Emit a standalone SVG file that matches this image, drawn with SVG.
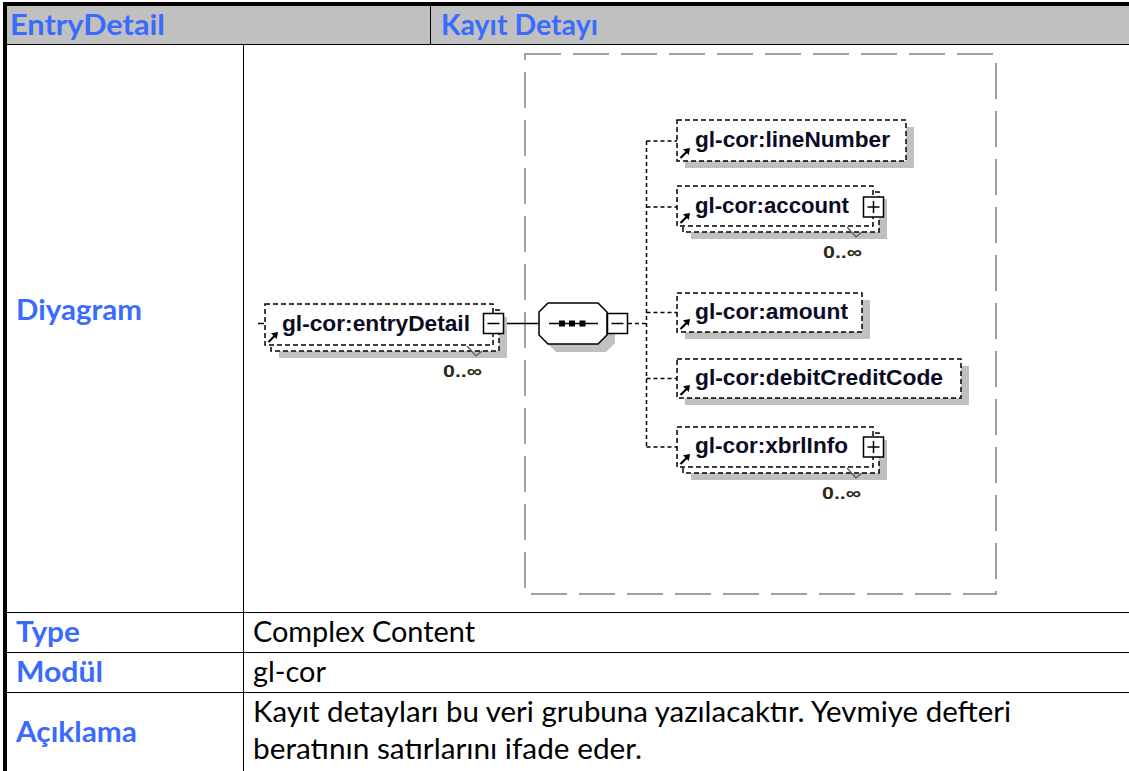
<svg xmlns="http://www.w3.org/2000/svg" width="1129" height="771" viewBox="0 0 1129 771">
<style>
.lbl{font-family:Lato,"Open Sans","Liberation Sans",sans-serif;font-size:28px;font-weight:bold;fill:#3a6bff}
.val{font-family:Lato,"Open Sans","Liberation Sans",sans-serif;font-size:28px;fill:#000}
.grid{stroke:#000;stroke-width:1;fill:none}
.frame{fill:none;stroke:#a0a0a0;stroke-width:2;stroke-dasharray:36 12}
.nb{fill:#fff;stroke:#000;stroke-width:1.5;stroke-dasharray:5 3}
.sh{fill:#c0c0c0}
.nt{font-family:"Liberation Sans",Arial,sans-serif;font-size:22px;font-weight:bold;fill:#0b0b26}
.occ{font-family:"Liberation Sans",Arial,sans-serif;font-size:17px;font-weight:bold;fill:#2a2a12}
.pm{fill:#fff;stroke:#000;stroke-width:1.5}
.pl{stroke:#000;stroke-width:1.5;fill:none}
.dc{stroke:#000;stroke-width:1.5;stroke-dasharray:4 3;fill:none}
.sc{stroke:#000;stroke-width:1.5;fill:none}
.tick{stroke:#555;stroke-width:1.2;fill:none}
</style>
<defs>
<g id="refArrow"><path d="M0.5,11 L7,4.5" stroke="#000" stroke-width="2.2"/><path d="M10,1 L3,2.2 L8.8,8 Z" fill="#000"/></g>
</defs>

<g id="table">
<rect x="7" y="6" width="1122" height="38.5" fill="#c0c0c0"/>
<rect x="3" y="2" width="1126" height="4" fill="#000"/>
<rect x="3" y="2" width="4" height="769" fill="#000"/>
<line class="grid" x1="7" y1="44.5" x2="1129" y2="44.5"/>
<line class="grid" x1="430.5" y1="6" x2="430.5" y2="44"/>
<line class="grid" x1="243.5" y1="45" x2="243.5" y2="771"/>
<line class="grid" x1="7" y1="612.5" x2="1129" y2="612.5"/>
<line class="grid" x1="7" y1="652.5" x2="1129" y2="652.5"/>
<line class="grid" x1="7" y1="692.5" x2="1129" y2="692.5"/>
<text class="lbl" x="10" y="35" textLength="155" lengthAdjust="spacingAndGlyphs">EntryDetail</text>
<text class="lbl" x="441" y="35" textLength="157" lengthAdjust="spacingAndGlyphs">Kayıt Detayı</text>
<text class="lbl" x="16" y="320" textLength="126" lengthAdjust="spacingAndGlyphs">Diyagram</text>
<text class="lbl" x="16" y="642" textLength="64" lengthAdjust="spacingAndGlyphs">Type</text>
<text class="lbl" x="16" y="682" textLength="87" lengthAdjust="spacingAndGlyphs">Modül</text>
<text class="lbl" x="16" y="742" textLength="121" lengthAdjust="spacingAndGlyphs">Açıklama</text>
<text class="val" x="253" y="642" textLength="222" lengthAdjust="spacingAndGlyphs">Complex Content</text>
<text class="val" x="253" y="682" textLength="73" lengthAdjust="spacingAndGlyphs">gl-cor</text>
<text class="val" x="253" y="722" textLength="758" lengthAdjust="spacingAndGlyphs">Kayıt detayları bu veri grubuna yazılacaktır. Yevmiye defteri</text>
<text class="val" x="253" y="759" textLength="389" lengthAdjust="spacingAndGlyphs">beratının satırlarını ifade eder.</text>
</g>

<rect id="sequence-frame" class="frame" x="525" y="54" width="471" height="540"/>

<g id="connectors">
<line class="sc" x1="258" y1="323.5" x2="264" y2="323.5"/>
<line class="sc" x1="504" y1="323.5" x2="539" y2="323.5"/>
<line class="dc" x1="628" y1="323.5" x2="647" y2="323.5"/>
<line class="dc" x1="646.5" y1="141" x2="646.5" y2="447"/>
<line class="dc" x1="646.5" y1="141" x2="677" y2="141"/>
<line class="dc" x1="646.5" y1="207" x2="677" y2="207"/>
<line class="dc" x1="646.5" y1="312.5" x2="677" y2="312.5"/>
<line class="dc" x1="646.5" y1="378.5" x2="677" y2="378.5"/>
<line class="dc" x1="646.5" y1="447" x2="677" y2="447"/>
</g>

<g id="node-entryDetail">
<rect class="sh" x="279" y="317" width="228" height="41"/>
<rect class="nb" x="271" y="310" width="228" height="41"/>
<rect class="nb" x="265" y="304" width="228" height="41"/>
<use href="#refArrow" x="268" y="331"/>
<text class="nt" x="282" y="331" textLength="188" lengthAdjust="spacingAndGlyphs">gl-cor:entryDetail</text>
<rect class="pm" x="483.5" y="313.5" width="20" height="20"/>
<line class="pl" x1="487.5" y1="323.5" x2="499.5" y2="323.5"/>
<path class="tick" d="M467,346 L476,356 L482,351"/>
<text class="occ" x="443" y="377" textLength="39" lengthAdjust="spacingAndGlyphs">0..∞</text>
</g>

<g id="node-sequence">
<polygon class="sh" points="556,311 606,311 615,320 615,343 606,352 556,352 547,343 547,320"/>
<polygon fill="#fff" stroke="#000" stroke-width="1.5" points="548,303 598,303 607,312 607,335 598,344 548,344 539,335 539,312"/>
<line class="sc" x1="549" y1="323.5" x2="598" y2="323.5"/>
<rect x="559" y="320.5" width="6" height="6" fill="#000"/>
<rect x="569" y="320.5" width="6" height="6" fill="#000"/>
<rect x="579.5" y="320.5" width="6" height="6" fill="#000"/>
<rect class="pm" x="607.5" y="313.5" width="20" height="20"/>
<line class="pl" x1="611.5" y1="323.5" x2="623.5" y2="323.5"/>
</g>

<g id="node-lineNumber">
<rect class="sh" x="685" y="127" width="229" height="41"/>
<rect class="nb" x="677" y="120" width="229" height="41"/>
<use href="#refArrow" x="680" y="147"/>
<text class="nt" x="695" y="147" textLength="195" lengthAdjust="spacingAndGlyphs">gl-cor:lineNumber</text>
</g>

<g id="node-account">
<rect class="sh" x="691" y="199" width="196" height="40"/>
<rect class="nb" x="683" y="192" width="196" height="40"/>
<rect class="nb" x="677" y="186" width="196" height="40"/>
<use href="#refArrow" x="680" y="212"/>
<text class="nt" x="695" y="213" textLength="154" lengthAdjust="spacingAndGlyphs">gl-cor:account</text>
<rect class="pm" x="863.5" y="197" width="20" height="20"/>
<line class="pl" x1="867.5" y1="207" x2="879.5" y2="207"/>
<line class="pl" x1="873.5" y1="201" x2="873.5" y2="213"/>
<path class="tick" d="M847,227 L856,237 L862,232"/>
<text class="occ" x="823" y="258" textLength="39" lengthAdjust="spacingAndGlyphs">0..∞</text>
</g>

<g id="node-amount">
<rect class="sh" x="685" y="300" width="185" height="39"/>
<rect class="nb" x="677" y="293" width="185" height="39"/>
<use href="#refArrow" x="680" y="318"/>
<text class="nt" x="695" y="319" textLength="153" lengthAdjust="spacingAndGlyphs">gl-cor:amount</text>
</g>

<g id="node-debitCreditCode">
<rect class="sh" x="685" y="366" width="284" height="39"/>
<rect class="nb" x="677" y="359" width="284" height="39"/>
<use href="#refArrow" x="680" y="384"/>
<text class="nt" x="695" y="385" textLength="248" lengthAdjust="spacingAndGlyphs">gl-cor:debitCreditCode</text>
</g>

<g id="node-xbrlInfo">
<rect class="sh" x="691" y="440" width="196" height="40"/>
<rect class="nb" x="683" y="433" width="196" height="40"/>
<rect class="nb" x="677" y="427" width="196" height="40"/>
<use href="#refArrow" x="680" y="453"/>
<text class="nt" x="695" y="453" textLength="153" lengthAdjust="spacingAndGlyphs">gl-cor:xbrlInfo</text>
<rect class="pm" x="863.5" y="437" width="20" height="20"/>
<line class="pl" x1="867.5" y1="447" x2="879.5" y2="447"/>
<line class="pl" x1="873.5" y1="441" x2="873.5" y2="453"/>
<path class="tick" d="M847,468 L856,478 L862,473"/>
<text class="occ" x="822" y="499" textLength="39" lengthAdjust="spacingAndGlyphs">0..∞</text>
</g>
</svg>
